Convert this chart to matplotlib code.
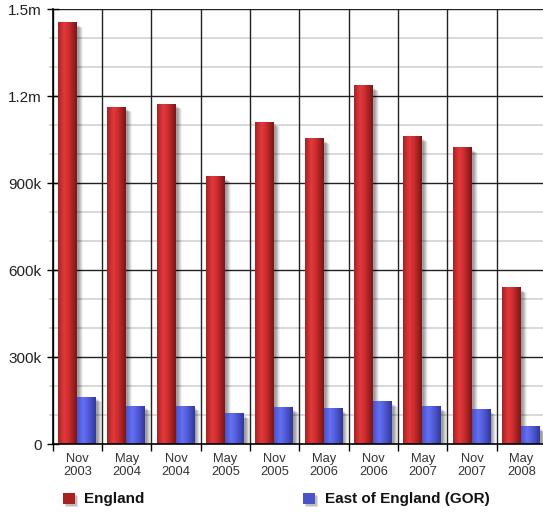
import matplotlib
matplotlib.use("Agg")
import matplotlib.pyplot as plt
import numpy as np
from matplotlib.patches import Rectangle
from matplotlib import transforms
from matplotlib.colors import to_rgb

# ---- data ----
periods = ["Nov\n2003", "May\n2004", "Nov\n2004", "May\n2005", "Nov\n2005",
           "May\n2006", "Nov\n2006", "May\n2007", "Nov\n2007", "May\n2008"]
england = [1452000, 1162000, 1172000, 921000, 1110000,
           1053000, 1237000, 1061000, 1023000, 540000]
east_of_england = [162000, 131000, 131000, 106000, 126000,
                   122000, 145000, 128000, 118000, 61000]
series_names = ["England", "East of England (GOR)"]
y_ticks = [0, 300000, 600000, 900000, 1200000, 1500000]
y_tick_labels = ["0", "300k", "600k", "900k", "1.2m", "1.5m"]
y_minor = [100000, 200000, 400000, 500000, 700000, 800000,
           1000000, 1100000, 1300000, 1400000]

plt.rcParams['font.family'] = ['Liberation Sans', 'DejaVu Sans']

W, H = 543, 515
fig = plt.figure(figsize=(W / 100, H / 100), dpi=100)
ax = fig.add_axes([52.7 / W, 70.7 / H, 493.3 / W, 435 / H])

x = np.arange(len(periods))
bw = 0.38
red_stops = ['#a82222', '#e23a3d', '#d22e31', '#7a1616']
blue_stops = ['#4a52c8', '#6470f2', '#5560e0', '#32379a']
stop_pos = [0.0, 0.33, 0.55, 1.0]


def gradient(stops):
    n = 64
    t = np.linspace(0, 1, n)
    cols = np.array([to_rgb(c) for c in stops])
    img = np.stack([np.interp(t, stop_pos, cols[:, k]) for k in range(3)], axis=-1)
    return img[np.newaxis, :, :]


def draw_series(centers, values, stops, name):
    bars = ax.bar(centers, values, width=bw, color=stops[1], zorder=3,
                  linewidth=0, label=name)
    img = gradient(stops)
    for b in bars:
        x0, w_, h_ = b.get_x(), b.get_width(), b.get_height()
        # soft shadow
        for dx, dy, a in [(2, -2, 0.10), (3, -3, 0.10), (4, -4, 0.10),
                          (5, -4, 0.08), (6, -5, 0.05)]:
            tr = ax.transData + transforms.ScaledTranslation(dx / 100, dy / 100,
                                                             fig.dpi_scale_trans)
            ax.add_patch(Rectangle((x0, 0), w_, h_, facecolor='black', alpha=a,
                                   linewidth=0, transform=tr, zorder=2.5,
                                   clip_on=True))
        ax.imshow(img, extent=[x0, x0 + w_, 0, h_], aspect='auto',
                  interpolation='bilinear', zorder=3.5)
    return bars


draw_series(x - 0.2, england, red_stops, series_names[0])
draw_series(x + 0.18, east_of_england, blue_stops, series_names[1])

ax.set_xlim(-0.5, len(periods) - 0.5)
ax.set_ylim(0, 1500000)

# grid
for v in y_minor:
    ax.axhline(v, color='#d6d6d6', lw=1.3, zorder=1)
for v in y_ticks[1:]:
    ax.axhline(v, color='#222222', lw=1.0, zorder=1.5)
for b in np.arange(len(periods) + 1) - 0.5:
    ax.axvline(b, color='#222222', lw=1.0, zorder=1.5)

ax.set_yticks(y_ticks)
ax.set_yticklabels(y_tick_labels)
ax.set_yticks(y_minor, minor=True)
ax.tick_params(axis='y', which='major', length=8, width=1, color='black',
               direction='inout', labelsize=11, labelcolor='#222222', pad=4)
ax.tick_params(axis='y', which='minor', length=3, width=1.2, color='#d0d0d0')

ax.set_xticks(np.arange(len(periods) + 1) - 0.5)
ax.set_xticklabels([])
ax.set_xticks(x, minor=True)
ax.set_xticklabels(periods, minor=True)
ax.tick_params(axis='x', which='major', length=5, width=1, color='black')
ax.tick_params(axis='x', which='minor', length=0, labelsize=9.3,
               labelcolor='#333333', pad=6)
for lab in ax.get_xticklabels(minor=True):
    lab.set_linespacing(1.2)

for s in ['top', 'right']:
    ax.spines[s].set_visible(False)
ax.spines['left'].set_color('black')
ax.spines['bottom'].set_color('black')
ax.spines['left'].set_linewidth(1.2)
ax.spines['bottom'].set_linewidth(1.2)
ax.spines['left'].set_zorder(5)
ax.spines['bottom'].set_zorder(5)

# legend (manual)
legend_items = [(63, 84, red_stops[0], series_names[0]),
                (303, 325, blue_stops[0], series_names[1])]
for sx, tx, col, name in legend_items:
    for dx, dy, a in [(2, -2, 0.15), (3, -3, 0.12)]:
        fig.add_artist(Rectangle(((sx + dx) / W, (11 + dy) / H), 12 / W, 11 / H,
                                 transform=fig.transFigure, facecolor='black',
                                 alpha=a, linewidth=0))
    fig.add_artist(Rectangle((sx / W, 11 / H), 12 / W, 11 / H,
                             transform=fig.transFigure, facecolor=col,
                             linewidth=0))
    fig.text(tx / W, 16.5 / H, name, fontsize=11, fontweight='bold',
             color='#111111', va='center', ha='left')

fig.savefig("out.png", dpi=100)
